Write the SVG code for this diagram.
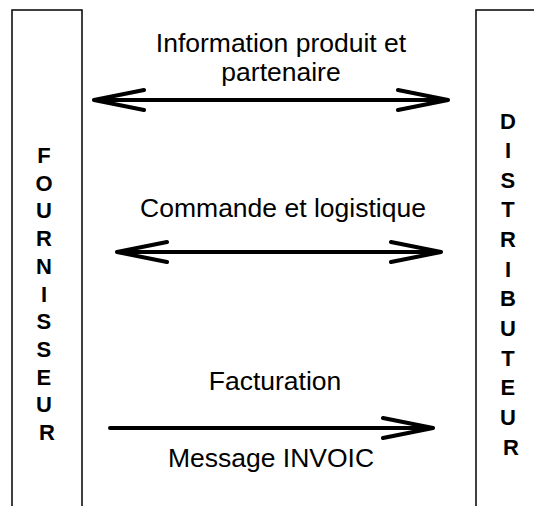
<svg xmlns="http://www.w3.org/2000/svg" width="534" height="506" viewBox="0 0 534 506">
  <style>
    .box { fill: #fff; stroke: #000; stroke-width: 1.5; }
    .vert { font-family: "Liberation Sans", Arial, sans-serif; font-size: 22px; font-weight: bold; text-anchor: middle; fill: #000; }
    .lbl { font-family: "Liberation Sans", Arial, sans-serif; font-size: 26.5px; text-anchor: middle; fill: #000; }
    .flow { fill: none; stroke: #000; stroke-width: 4; stroke-linecap: round; stroke-linejoin: round; }
  </style>
  <rect width="534" height="506" fill="#fff"/>

  <!-- supplier column, open at the bottom -->
  <g id="fournisseur">
    <path class="box" d="M12,510 V10 H82 V510"/>
    <text class="vert">
      <tspan x="47" y="163">F</tspan>
      <tspan x="47" y="191">O</tspan>
      <tspan x="47" y="218">U</tspan>
      <tspan x="47" y="246">R</tspan>
      <tspan x="47" y="274">N</tspan>
      <tspan x="47" y="302">I</tspan>
      <tspan x="47" y="329">S</tspan>
      <tspan x="47" y="357">S</tspan>
      <tspan x="47" y="385">E</tspan>
      <tspan x="47" y="412">U</tspan>
      <tspan x="47" y="440">R</tspan>
    </text>
  </g>

  <!-- distributor column, open at the bottom and right -->
  <g id="distributeur">
    <path class="box" d="M476,510 V10 H540"/>
    <text class="vert">
      <tspan x="511" y="129">D</tspan>
      <tspan x="511" y="158">I</tspan>
      <tspan x="511" y="188">S</tspan>
      <tspan x="511" y="217">T</tspan>
      <tspan x="511" y="247">R</tspan>
      <tspan x="511" y="277">I</tspan>
      <tspan x="511" y="306">B</tspan>
      <tspan x="511" y="336">U</tspan>
      <tspan x="511" y="366">T</tspan>
      <tspan x="511" y="395">E</tspan>
      <tspan x="511" y="425">U</tspan>
      <tspan x="511" y="455">R</tspan>
    </text>
  </g>

  <g id="connectors">
    <path class="flow" d="M94,100 H448 M144,90 L94,100 L144,110 M398,90 L448,100 L398,110"/>
    <path class="flow" d="M117,252 H441 M167,242 L117,252 L167,262 M391,242 L441,252 L391,262"/>
    <path class="flow" d="M110,428 H433 M383,418 L433,428 L383,438"/>
  </g>

  <g id="labels">
    <text class="lbl" x="281" y="52">Information produit et</text>
    <text class="lbl" x="281" y="81">partenaire</text>
    <text class="lbl" x="283" y="217">Commande et logistique</text>
    <text class="lbl" x="275" y="390">Facturation</text>
    <text class="lbl" x="271" y="467">Message INVOIC</text>
  </g>
</svg>
